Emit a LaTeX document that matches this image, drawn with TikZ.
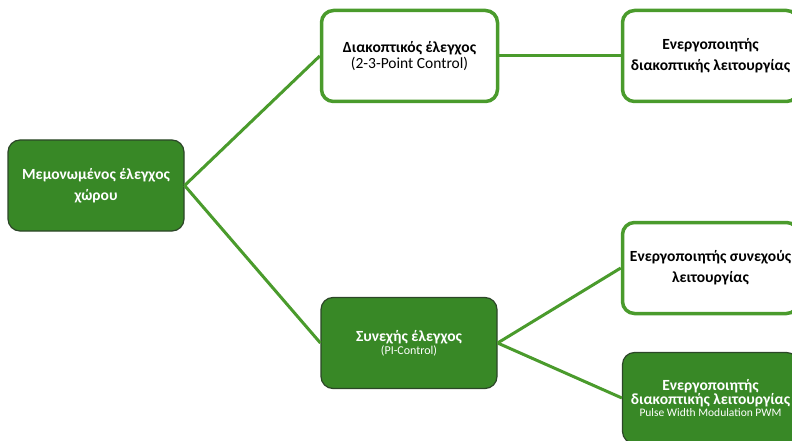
\documentclass[tikz,border=0pt]{standalone}
\usepackage{fontspec}
\setmainfont{Carlito}
\definecolor{leafgreen}{RGB}{74,155,44}
\definecolor{boxfill}{RGB}{56,136,38}
\definecolor{boxedge}{RGB}{44,70,40}
\newcommand{\headfont}{\bfseries\fontsize{15.5}{21}\selectfont}
\tikzset{
  box/.style={rectangle, rounded corners=12pt, minimum width=176pt, minimum height=91pt,
    align=center, inner sep=1pt},
  openbox/.style={box, draw=leafgreen, line width=3.5pt, fill=white, text=black},
  solidbox/.style={box, draw=boxedge, line width=1.2pt, fill=boxfill, text=white},
  link/.style={draw=leafgreen, line width=3pt},
}
\begin{document}
\begin{tikzpicture}[x=1pt,y=-1pt]
\useasboundingbox (0,0) rectangle (792,441);
\clip (0,0) rectangle (792,441);
% main node on the left
\node[solidbox, font=\headfont] (room) at (96,185.5)
  {Μεμονωμένος έλεγχος\\χώρου};
% switching branch
\node[openbox] (switch) at (409.5,56)
  {{\headfont Διακοπτικός έλεγχος}\\[2pt]{\fontsize{15.5}{21}\selectfont (2-3-Point Control)}};
\node[openbox, font=\headfont] (swact) at (710.5,56)
  {Ενεργοποιητής\\διακοπτικής λειτουργίας};
% continuous branch
\node[solidbox] (cont) at (409,343)
  {{\headfont Συνεχής έλεγχος}\\[1pt]{\fontsize{12}{15}\selectfont (PI-Control)}};
\node[openbox, font=\headfont] (contact) at (710.5,268)
  {Ενεργοποιητής συνεχούς\\λειτουργίας};
\node[solidbox] (pwm) at (710.5,398)
  {{\headfont Ενεργοποιητής}\\{\headfont διακοπτικής λειτουργίας}\\{\fontsize{11.5}{15}\selectfont Pulse Width Modulation PWM}};
% connectors
\draw[link] (room.east) -- (switch.west);
\draw[link] (room.east) -- (cont.west);
\draw[link] (switch.east) -- (swact.west);
\draw[link] (cont.east) -- (contact.west);
\draw[link] (cont.east) -- (pwm.west);
\end{tikzpicture}
\end{document}
